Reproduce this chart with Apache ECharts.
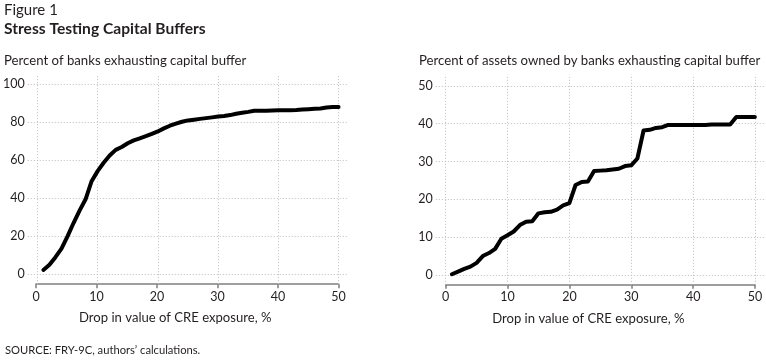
<!DOCTYPE html>
<html><head><meta charset="utf-8">
<script src="https://cdn.jsdelivr.net/npm/echarts@6/dist/echarts.min.js"></script>
<style>html,body{margin:0;padding:0;background:#fff}#c{width:766px;height:360px}</style>
</head><body><div id="c"></div>
<script>
// ---- data ----
const dropPct = [1,2,3,4,5,6,7,8,9,10,11,12,13,14,15,16,17,18,19,20,21,22,23,24,25,26,27,28,29,30,31,32,33,34,35,36,37,38,39,40,41,42,43,44,45,46,47,48,49,50];
const banksExhausting = [2.3,5.0,9.0,13.5,20.0,27.0,33.5,39.5,49.0,54.3,58.7,62.5,65.5,67.0,69.0,70.5,71.6,72.7,73.9,75.2,76.8,78.2,79.3,80.3,81.0,81.4,81.8,82.2,82.6,83.0,83.3,83.8,84.5,85.0,85.5,86.1,86.1,86.1,86.2,86.3,86.4,86.4,86.5,86.7,86.9,87.1,87.3,87.8,88.0,88.0];
const assetsExhausting = [0.2,0.9,1.6,2.2,3.2,5.0,5.8,6.9,9.6,10.5,11.5,13.2,14.1,14.2,16.3,16.6,16.7,17.3,18.4,19.0,23.8,24.6,24.7,27.5,27.6,27.7,27.9,28.1,28.8,29.0,30.8,38.2,38.4,38.9,39.1,39.7,39.7,39.7,39.7,39.7,39.7,39.7,39.8,39.8,39.8,39.8,41.8,41.8,41.8,41.8];
const xTicks = [0,10,20,30,40,50];
const leftYTicks = [0,20,40,60,80,100];
const rightYTicks = [0,10,20,30,40,50];
const figureLabel = 'Figure 1';
const figureTitle = 'Stress Testing Capital Buffers';
const leftSubtitle = 'Percent of banks exhausting capital buffer';
const rightSubtitle = 'Percent of assets owned by banks exhausting capital buffer';
const xName = 'Drop in value of CRE exposure, %';
const sourceNote = 'SOURCE: FRY-9C, authors\u2019 calculations.';

// ---- styling ----
const FONT = 'Lato';
const TXT = '#231f20';
const GRIDC = '#bdbdbd';
const AXC = '#7f7f7f';

const chart = echarts.init(document.getElementById('c'), null, {renderer: 'canvas'});

function gridMarks(yTicks) {
  return {
    silent: true, symbol: ['none','none'], z: 1, animation: false,
    label: {show: false},
    lineStyle: {type: [1, 2], color: GRIDC, width: 1},
    emphasis: {disabled: true},
    data: yTicks.map(v => ({yAxis: v})).concat(xTicks.map(v => ({xAxis: v})))
  };
}
function plotX(i, min, max) {
  return {gridIndex: i, type: 'value', min: min, max: max, show: false, splitLine: {show: false}};
}
function plotY(i, min, max, ticks) {
  return {gridIndex: i, type: 'value', min: min, max: max,
    axisLine: {show: false}, axisTick: {show: false}, splitLine: {show: false},
    axisLabel: {customValues: ticks, margin: 3, color: TXT, fontFamily: FONT, fontSize: 12.5}};
}
function axisX(i) {
  return {gridIndex: i, type: 'value', min: 0, max: 50, interval: 10,
    axisLine: {show: true, lineStyle: {color: AXC, width: 1.5}},
    axisTick: {show: true, length: 4, lineStyle: {color: AXC, width: 1.5}},
    splitLine: {show: false},
    axisLabel: {color: TXT, fontFamily: FONT, fontSize: 12.5, margin: 6},
    name: xName, nameLocation: 'middle', nameGap: 27,
    nameTextStyle: {color: TXT, fontFamily: FONT, fontSize: 13.1, padding: [0, 24, 0, 0]}};
}
function axisY(i) {
  return {gridIndex: i, type: 'value', min: 0, max: 1, show: false};
}
function lineSeries(xi, yi, vals, yTicks) {
  return {type: 'line', xAxisIndex: xi, yAxisIndex: yi, symbol: 'none', smooth: false,
    animation: false, z: 3,
    lineStyle: {color: '#000', width: 4, cap: 'round', join: 'round'},
    data: dropPct.map((x, k) => [x, vals[k]]),
    markLine: gridMarks(yTicks)};
}

chart.setOption({
  animation: false,
  backgroundColor: '#fff',
  grid: [
    {left: 26.3, top: 74.8, width: 321.9, height: 209.4},
    {left: 36, top: 74.8, width: 302.5, height: 209.4},
    {left: 435.8, top: 74.6, width: 330.3, height: 210.2},
    {left: 445.7, top: 74.6, width: 309.3, height: 210.2}
  ],
  xAxis: [plotX(0, -1.6, 51.6), axisX(1), plotX(2, -1.6, 51.8), axisX(3)],
  yAxis: [plotY(0, -5.2, 105, leftYTicks), axisY(1), plotY(2, -2.6, 53, rightYTicks), axisY(3)],
  series: [
    lineSeries(0, 0, banksExhausting, leftYTicks),
    lineSeries(2, 2, assetsExhausting, rightYTicks)
  ],
  graphic: [
    {type: 'text', left: 4, top: 3, style: {text: figureLabel, font: '15px ' + FONT, fill: TXT}},
    {type: 'text', left: 4, top: 21, style: {text: figureTitle, font: 'bold 15.6px ' + FONT, fill: TXT}},
    {type: 'text', left: 4, top: 54.5, style: {text: leftSubtitle, font: '13.2px ' + FONT, fill: TXT}},
    {type: 'text', left: 419, top: 54.5, style: {text: rightSubtitle, font: '13.2px ' + FONT, fill: TXT}},
    {type: 'text', left: 5, top: 345, style: {text: sourceNote, font: '11.2px ' + FONT, fill: TXT}}
  ]
});
</script></body></html>
